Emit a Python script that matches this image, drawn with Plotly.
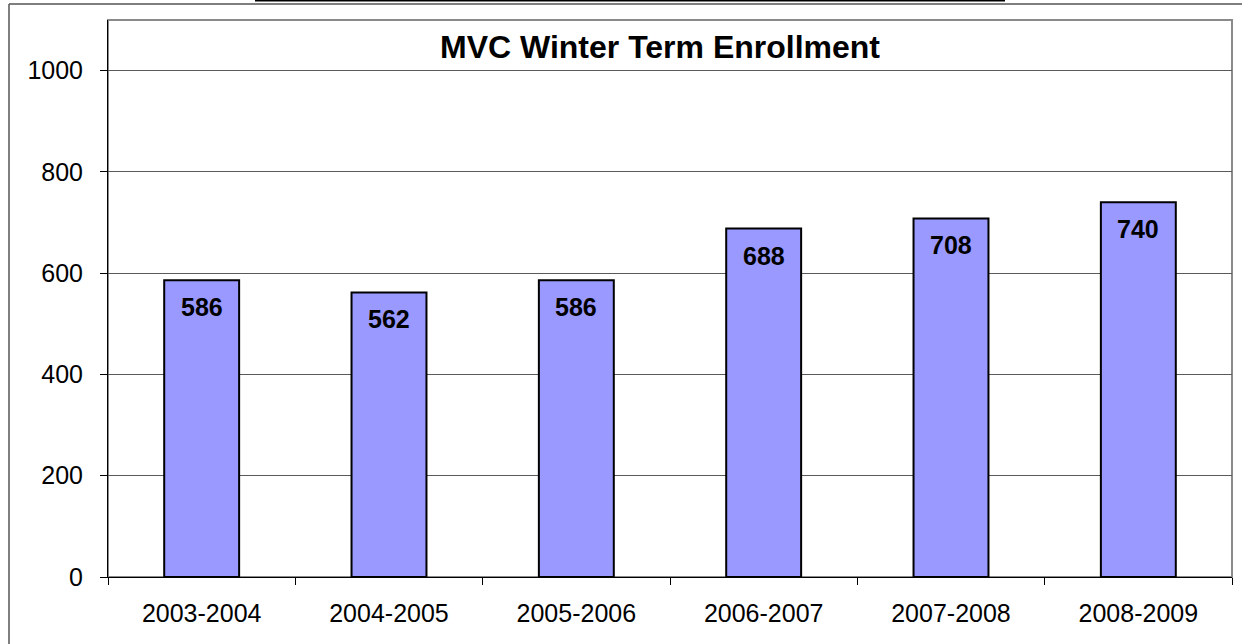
import plotly.graph_objects as go

categories = ["2003-2004", "2004-2005", "2005-2006", "2006-2007", "2007-2008", "2008-2009"]
enrollment = [586, 562, 586, 688, 708, 740]
y_ticks = [0, 200, 400, 600, 800, 1000]
title_text = "MVC Winter Term Enrollment"

W, H = 1242, 644
L, R, T, B = 108, 10, 20, 67
pw, ph = W - L - R, H - T - B

def px_x(p):
    return (p - L) / pw

def px_y(p):
    return (H - B - p) / ph

FONT = "Arial, Liberation Sans"

fig = go.Figure()
fig.add_trace(go.Bar(
    x=categories, y=enrollment,
    marker=dict(color="#9999FF", line=dict(color="black", width=2)),
    width=0.4, hoverinfo="skip",
))

for c, v in zip(categories, enrollment):
    fig.add_annotation(x=c, y=v, text=f"<b>{v}</b>", showarrow=False,
                       yshift=-27, font=dict(family=FONT, size=25, color="black"))

shapes = [
    dict(type="rect", xref="paper", yref="paper", x0=0, x1=1, y0=0, y1=1,
         line=dict(color="#8a8a8a", width=2), layer="below"),
    dict(type="line", xref="paper", yref="paper", x0=px_x(9), x1=px_x(1260), y0=px_y(4), y1=px_y(4),
         line=dict(color="#555555", width=1.5)),
    dict(type="line", xref="paper", yref="paper", x0=px_x(9), x1=px_x(9), y0=px_y(4), y1=px_y(660),
         line=dict(color="#555555", width=1.5)),
    dict(type="line", xref="paper", yref="paper", x0=px_x(255), x1=px_x(1005), y0=px_y(0.5), y1=px_y(0.5),
         line=dict(color="black", width=2)),
]

fig.update_layout(
    width=W, height=H,
    margin=dict(l=L, r=R, t=T, b=B, autoexpand=False),
    paper_bgcolor="white", plot_bgcolor="white",
    showlegend=False,
    shapes=shapes,
    title=dict(text=f"<b>{title_text}</b>", x=660 / W, xanchor="center",
               y=1 - 47 / H, yanchor="middle",
               font=dict(family=FONT, size=32, color="black")),
    font=dict(family=FONT, size=25, color="black"),
)
fig.update_xaxes(
    showline=True, linecolor="black", linewidth=1,
    ticks="outside", ticklen=7, tickcolor="black", tickson="boundaries",
    showgrid=False, tickfont=dict(size=25), fixedrange=True,
    ticklabelstandoff=14,
)
fig.update_yaxes(
    range=[0, 1100], tickvals=y_ticks,
    showline=True, linecolor="black", linewidth=1,
    ticks="outside", ticklen=7, tickcolor="black",
    showgrid=True, gridcolor="#5a5a5a", gridwidth=1,
    zeroline=False, tickfont=dict(size=25), fixedrange=True,
    ticklabelstandoff=12,
)

fig.write_html("out.html", config={"displayModeBar": False},
               post_script="document.body.style.margin='0';document.body.style.overflow='hidden';")
